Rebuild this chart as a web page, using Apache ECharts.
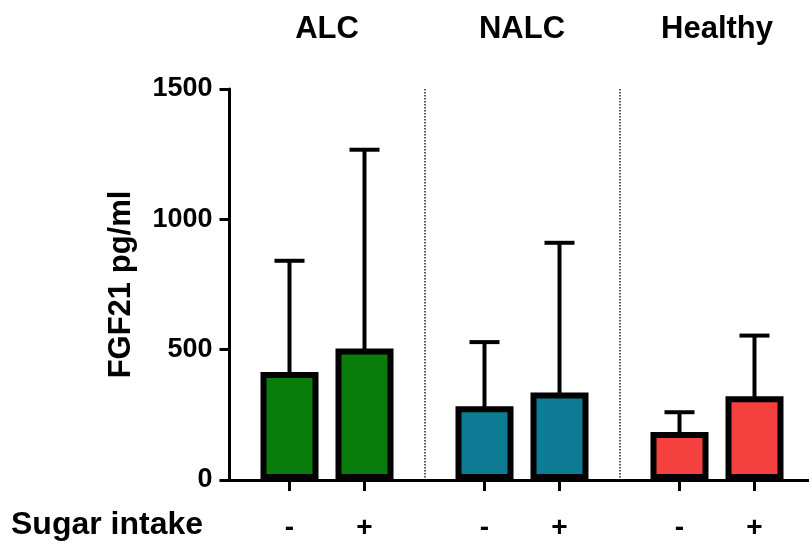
<!DOCTYPE html>
<html>
<head>
<meta charset="utf-8">
<script src="https://cdn.jsdelivr.net/npm/echarts@6/dist/echarts.min.js"></script>
<style>
html,body{margin:0;padding:0;background:#fff;overflow:hidden;}
#chart{width:815px;height:549px;}
</style>
</head>
<body>
<div id="chart"></div>
<script>
// ---- data ----
const categories = ['ALC', 'NALC', 'Healthy'];
const sugarLevels = ['-', '+'];
const meanNoSugar = [414, 283, 184];
const meanSugar = [504, 336, 321];
const upperNoSugar = [841, 529, 260];   // mean + SD
const upperSugar = [1267, 910, 554];    // mean + SD
const yTicks = [0, 500, 1000, 1500];
const yTitle = 'FGF21 pg/ml';
const xTitle = 'Sugar intake';
const groupColors = ['#0a7c0c', '#0c7b93', '#f4403f'];

// ---- style ----
const FONT = '"Liberation Sans", Arial, sans-serif';
const BAR_W = 58;
const BAR_GAP = 0.293;
const HALF_STEP = BAR_W * (1 + BAR_GAP) / 2;

const chart = echarts.init(document.getElementById('chart'), null, {renderer: 'canvas'});

function barSeries(name, values) {
  return {
    type: 'bar',
    name: name,
    barWidth: BAR_W,
    barGap: (BAR_GAP * 100) + '%',
    data: values.map((v, i) => ({value: v, itemStyle: {color: groupColors[i]}})),
    itemStyle: {borderColor: '#000', borderWidth: 6},
    label: {
      show: true, position: 'bottom', distance: 34,
      formatter: name, color: '#000', fontWeight: 'bold', fontSize: 28, fontFamily: FONT
    },
    z: 2
  };
}

function errorSeries(means, uppers, sign) {
  return {
    type: 'custom',
    clip: false,
    z: 3,
    data: means.map((m, i) => [i, m, uppers[i]]),
    renderItem: function (params, api) {
      const idx = api.value(0);
      const base = api.coord([idx, 0]);
      const top = api.coord([idx, api.value(1)]);
      const up = api.coord([idx, api.value(2)]);
      const x = base[0] + sign * HALF_STEP;
      const st = {stroke: '#000', lineWidth: 4};
      return {
        type: 'group',
        children: [
          {type: 'line', shape: {x1: x, y1: top[1] + 3, x2: x, y2: up[1]}, style: st},
          {type: 'line', shape: {x1: x - 15, y1: up[1], x2: x + 15, y2: up[1]}, style: st},
          {type: 'line', shape: {x1: x, y1: base[1], x2: x, y2: base[1] + 11}, style: {stroke: '#000', lineWidth: 3}}
        ]
      };
    }
  };
}

const option = {
  backgroundColor: '#fff',
  animation: false,
  textStyle: {fontFamily: FONT},
  grid: {left: 229.5, right: 0.5, top: 89, bottom: 69, containLabel: false},
  xAxis: [
    {
      type: 'category', data: categories, position: 'bottom',
      axisLine: {show: true, lineStyle: {color: '#000', width: 3}},
      axisTick: {show: false},
      axisLabel: {show: false},
      splitLine: {show: true, lineStyle: {color: '#222', width: 1.5, type: [1.5, 1.5]}}
    },
    {
      type: 'category', data: categories, position: 'top',
      axisLine: {show: false}, axisTick: {show: false},
      axisLabel: {show: true, margin: 44, color: '#000', fontWeight: 'bold', fontSize: 31, fontFamily: FONT}
    }
  ],
  yAxis: {
    type: 'value', min: yTicks[0], max: yTicks[yTicks.length - 1], interval: yTicks[1] - yTicks[0],
    axisLine: {show: true, lineStyle: {color: '#000', width: 3}},
    axisTick: {show: true, length: 10, lineStyle: {color: '#000', width: 3}},
    axisLabel: {margin: 17, color: '#000', fontWeight: 'bold', fontSize: 27, fontFamily: FONT,
      formatter: function (v) { return String(v); }},
    splitLine: {show: false},
    name: yTitle, nameLocation: 'middle', nameGap: 93, nameRotate: 90,
    nameTextStyle: {color: '#000', fontWeight: 'bold', fontSize: 31, fontFamily: FONT}
  },
  graphic: [
    {type: 'text', left: 11, top: 509, style: {text: xTitle, fill: '#000', font: 'bold 32px ' + FONT}}
  ],
  series: [
    barSeries(sugarLevels[0], meanNoSugar),
    barSeries(sugarLevels[1], meanSugar),
    errorSeries(meanNoSugar, upperNoSugar, -1),
    errorSeries(meanSugar, upperSugar, 1)
  ]
};
chart.setOption(option);
</script>
</body>
</html>
